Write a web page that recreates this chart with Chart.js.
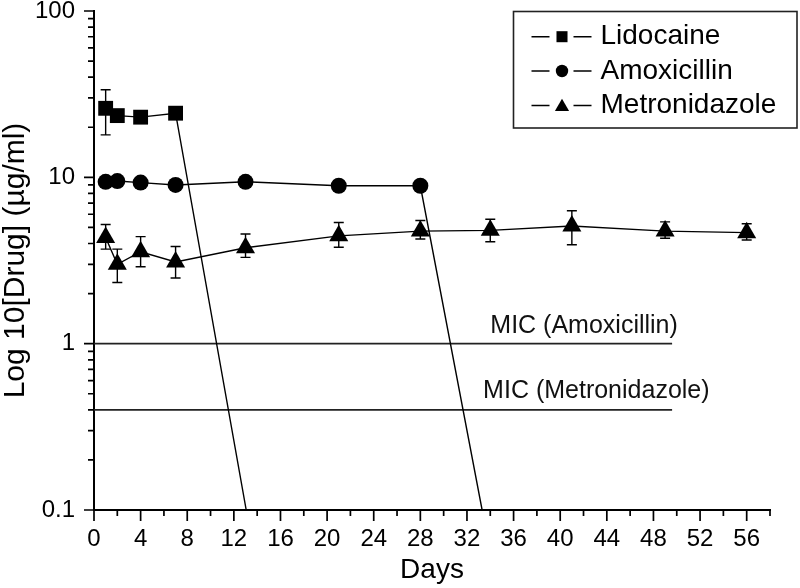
<!DOCTYPE html>
<html><head><meta charset="utf-8">
<script src="https://cdn.jsdelivr.net/npm/chart.js@4/dist/chart.umd.min.js"></script>
<style>html,body{margin:0;padding:0;background:#fff}#wrap{width:800px;height:588px;position:relative}</style>
</head><body><div id="wrap"><canvas id="c"></canvas></div>
<script>
// ---- data ----
const lidoDays   = [1, 2, 4, 7, 13.06];
const lidoValues = [26.0, 23.5, 23.0, 24.3, 0.1];
const lidoLow    = [18.0, 21.7, 22.0, 23.0, null];
const lidoHigh   = [33.6, 25.3, 24.2, 25.6, null];

const amoxDays   = [1, 2, 4, 7, 13, 21, 28, 33.3];
const amoxValues = [9.4, 9.5, 9.3, 9.0, 9.4, 8.9, 8.9, 0.1];

const metroDays   = [1, 2, 4, 7, 13, 21, 28, 34, 41, 49, 56];
const metroValues = [4.35, 3.0, 3.57, 3.1, 3.77, 4.45, 4.75, 4.8, 5.1, 4.75, 4.65];
const metroLow    = [3.7, 2.33, 2.9, 2.48, 3.3, 3.8, 4.26, 4.1, 3.93, 4.3, 4.2];
const metroHigh   = [5.2, 3.7, 4.4, 3.84, 4.56, 5.35, 5.5, 5.6, 6.3, 5.4, 5.26];

const micDays  = [0, 49.6];
const micAmox  = 1;
const micMetro = 0.4;
const micLabels = ['MIC (Amoxicillin)', 'MIC (Metronidazole)'];
const micLabelDays = [42.05, 43.1];

const seriesNames = ['Lidocaine', 'Amoxicillin', 'Metronidazole'];
const xTicks = [0, 4, 8, 12, 16, 20, 24, 28, 32, 36, 40, 44, 48, 52, 56];
const yTicks = [0.1, 1, 10, 100];
const yTickLabels = ['0.1', '1', '10', '100'];
const xTitle = 'Days';
const yTitle = 'Log 10[Drug] (\u00b5g/ml)';

// ---- helpers ----
const pts = (xs, ys) => xs.map((x, i) => ({x: x, y: ys[i]}));
const FONT = '"Liberation Sans", Arial, sans-serif';
const BLACK = '#000';

const styles = ['rect', 'circle', 'triangle'];
const radii = [10.5, 8, 11];

function lastZero(n, r) { const a = new Array(n).fill(r); a[n - 1] = 0; return a; }

const datasets = [
  { label: seriesNames[0], data: pts(lidoDays, lidoValues), pointStyle: styles[0],
    pointRadius: lastZero(lidoDays.length, radii[0]), err: [lidoLow, lidoHigh] },
  { label: seriesNames[1], data: pts(amoxDays, amoxValues), pointStyle: styles[1],
    pointRadius: lastZero(amoxDays.length, radii[1]) },
  { label: seriesNames[2], data: pts(metroDays, metroValues), pointStyle: styles[2],
    pointRadius: radii[2], err: [metroLow, metroHigh] },
  { label: micLabels[0], data: pts(micDays, micDays.map(() => micAmox)), pointRadius: 0,
    borderColor: '#222', borderWidth: 1.6 },
  { label: micLabels[1], data: pts(micDays, micDays.map(() => micMetro)), pointRadius: 0,
    borderColor: '#222', borderWidth: 1.6 }
].map(d => Object.assign({
  borderColor: BLACK, backgroundColor: BLACK, pointBackgroundColor: BLACK,
  pointBorderColor: BLACK, pointBorderWidth: 0, borderWidth: 1.4, tension: 0,
  pointHoverRadius: 0, showLine: true
}, d));

const errorBars = {
  id: 'errorBars',
  beforeDatasetsDraw(chart) {
    const ctx = chart.ctx, xs = chart.scales.x, ys = chart.scales.y;
    ctx.save();
    ctx.strokeStyle = BLACK; ctx.lineWidth = 1.4;
    chart.data.datasets.forEach(ds => {
      if (!ds.err) return;
      ds.data.forEach((p, i) => {
        const lo = ds.err[0][i], hi = ds.err[1][i];
        if (lo == null || hi == null) return;
        const x = xs.getPixelForValue(p.x);
        const y1 = ys.getPixelForValue(lo), y2 = ys.getPixelForValue(hi);
        ctx.beginPath();
        ctx.moveTo(x, y1); ctx.lineTo(x, y2);
        ctx.moveTo(x - 5, y1); ctx.lineTo(x + 5, y1);
        ctx.moveTo(x - 5, y2); ctx.lineTo(x + 5, y2);
        ctx.stroke();
      });
    });
    ctx.restore();
  }
};

const decor = {
  id: 'decor',
  afterDraw(chart) {
    const ctx = chart.ctx, xs = chart.scales.x, ys = chart.scales.y, a = chart.chartArea;
    ctx.save();
    // axis tick marks
    ctx.strokeStyle = BLACK; ctx.lineWidth = 1.7;
    ctx.beginPath();
    for (let d = 0.1; d < 100; d *= 10) {
      for (let m = 1; m <= 9; m++) {
        const y = ys.getPixelForValue(d * m);
        ctx.moveTo(a.left, y); ctx.lineTo(a.left - (m === 1 ? 10 : 6), y);
      }
    }
    const yTop = ys.getPixelForValue(100);
    ctx.moveTo(a.left, yTop); ctx.lineTo(a.left - 10, yTop);
    for (let v = 0; v <= xs.max; v += 2) {
      const x = xs.getPixelForValue(v);
      ctx.moveTo(x, a.bottom); ctx.lineTo(x, a.bottom + (v % 4 === 0 ? 11 : 6));
    }
    ctx.stroke();

    // MIC labels
    ctx.fillStyle = '#111';
    ctx.font = '25px ' + FONT;
    ctx.textAlign = 'center'; ctx.textBaseline = 'alphabetic';
    ctx.fillText(micLabels[0], xs.getPixelForValue(micLabelDays[0]), ys.getPixelForValue(micAmox) - 11);
    ctx.fillText(micLabels[1], xs.getPixelForValue(micLabelDays[1]), ys.getPixelForValue(micMetro) - 12);

    // legend box
    const lx = 513.5, ly = 11.5, lw = 283.5, lh = 116.5;
    ctx.strokeStyle = '#222'; ctx.lineWidth = 1.6;
    ctx.strokeRect(lx, ly, lw, lh);
    const rowY = [36.7, 71, 105.5];
    const mr = [7.8, 6.2, 8.2];
    for (let i = 0; i < 3; i++) {
      const y = rowY[i];
      ctx.strokeStyle = BLACK; ctx.lineWidth = 1.4;
      ctx.beginPath();
      ctx.moveTo(531.5, y); ctx.lineTo(549.5, y);
      ctx.moveTo(573.5, y); ctx.lineTo(591.5, y);
      ctx.stroke();
      ctx.fillStyle = BLACK;
      Chart.helpers.drawPoint(ctx, {pointStyle: styles[i], radius: mr[i], rotation: 0, borderWidth: 0}, 562, y + (i === 2 ? 1.5 : 0));
      ctx.font = '28px ' + FONT;
      ctx.textAlign = 'left'; ctx.textBaseline = 'middle';
      ctx.fillText(seriesNames[i], 600.5, y);
    }
    ctx.restore();
  }
};

new Chart(document.getElementById('c'), {
  type: 'line',
  data: { datasets: datasets },
  options: {
    responsive: true, maintainAspectRatio: false, animation: false,
    layout: { padding: { top: 11, right: 30, left: 0, bottom: 0 } },
    plugins: { legend: { display: false }, tooltip: { enabled: false } },
    scales: {
      x: {
        type: 'linear', min: 0, max: 58,
        grid: { display: false, drawTicks: false },
        border: { display: true, color: BLACK, width: 2 },
        afterBuildTicks: s => { s.ticks = xTicks.map(v => ({ value: v })); },
        afterFit: s => { s.height = 78; s.paddingLeft = 0; s.paddingRight = 0; },
        ticks: { color: BLACK, padding: 15, font: { size: 24, family: FONT }, maxRotation: 0,
                 callback: v => String(v) },
        title: { display: true, text: xTitle, color: BLACK,
                 font: { size: 28, family: FONT, lineHeight: 1 }, padding: { top: 0, bottom: 4 } }
      },
      y: {
        type: 'logarithmic', min: 0.1, max: 100,
        grid: { display: false, drawTicks: false },
        border: { display: true, color: BLACK, width: 2 },
        afterBuildTicks: s => { s.ticks = yTicks.map(v => ({ value: v })); },
        afterFit: s => { s.width = 94; s.paddingTop = 0; s.paddingBottom = 0; },
        ticks: { color: BLACK, padding: 19, font: { size: 24, family: FONT },
                 callback: (v, i) => yTickLabels[i] },
        title: { display: true, text: yTitle, color: BLACK,
                 font: { size: 30, family: FONT, lineHeight: 1 }, padding: { top: 1, bottom: 0 } }
      }
    }
  },
  plugins: [errorBars, decor]
});
</script>
</body></html>
